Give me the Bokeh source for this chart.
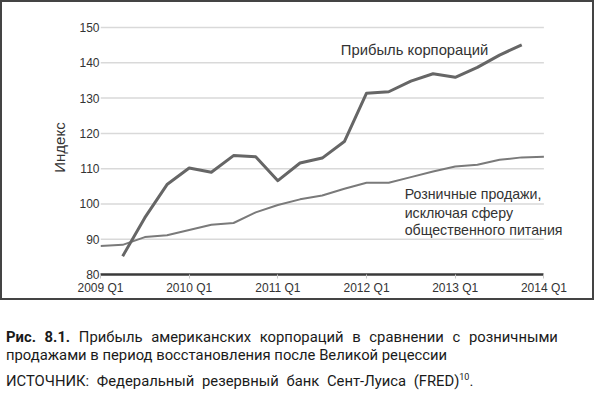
from bokeh.plotting import figure
from bokeh.layouts import column
from bokeh.models import Label, FixedTicker, Div
from bokeh.embed import file_html
from bokeh.resources import INLINE

# ---- data ----
profit_quarters = ["2009 Q2", "2009 Q3", "2009 Q4",
                   "2010 Q1", "2010 Q2", "2010 Q3", "2010 Q4",
                   "2011 Q1", "2011 Q2", "2011 Q3", "2011 Q4",
                   "2012 Q1", "2012 Q2", "2012 Q3", "2012 Q4",
                   "2013 Q1", "2013 Q2", "2013 Q3", "2013 Q4"]
profit_values = [85.2, 96.1, 105.5,
                 110.2, 109.0, 113.7, 113.4,
                 106.6, 111.6, 113.0, 117.7,
                 131.4, 131.8, 134.8, 136.9,
                 135.9, 138.7, 142.2, 145.1]

retail_quarters = ["2009 Q1", "2009 Q2", "2009 Q3", "2009 Q4",
                   "2010 Q1", "2010 Q2", "2010 Q3", "2010 Q4",
                   "2011 Q1", "2011 Q2", "2011 Q3", "2011 Q4",
                   "2012 Q1", "2012 Q2", "2012 Q3", "2012 Q4",
                   "2013 Q1", "2013 Q2", "2013 Q3", "2013 Q4",
                   "2014 Q1"]
retail_values = [88.1, 88.4, 90.6, 91.1,
                 92.6, 94.1, 94.6, 97.6,
                 99.7, 101.3, 102.4, 104.3,
                 106.0, 106.0, 107.6, 109.2,
                 110.6, 111.1, 112.5, 113.2,
                 113.4]

x_tick_labels = ["2009 Q1", "2010 Q1", "2011 Q1", "2012 Q1", "2013 Q1", "2014 Q1"]
y_ticks = [80, 90, 100, 110, 120, 130, 140, 150]

y_title = "Индекс"
profit_name = "Прибыль корпораций"
retail_name = ["Розничные продажи,", "исключая сферу", "общественного питания"]
caption_bold = "Рис. 8.1."
caption_line1 = "Прибыль американских корпораций в сравнении с розничными"
caption_line2 = "продажами в период восстановления после Великой рецессии"
caption_src = "ИСТОЧНИК: Федеральный резервный банк Сент-Луиса (FRED)"
caption_sup = "10"


def qnum(s):
    y, q = s.split(" Q")
    return int(y) + (int(q) - 1) / 4


profit_x = [qnum(s) for s in profit_quarters]
retail_x = [qnum(s) for s in retail_quarters]
x_ticks = [qnum(s) for s in x_tick_labels]
x_first, x_last = x_ticks[0], x_ticks[-1]

FONT = "Liberation Sans"
CAP_FONT = "Roboto"

# ---------------- chart ----------------
p = figure(width=594, height=300, x_range=(2009, 2014.3), y_range=(80, 152),
           output_backend="svg", toolbar_location=None,
           min_border_left=98, min_border_right=26,
           min_border_top=18, min_border_bottom=28)
p.styles = {"border": "2px solid #444444"}
p.outline_line_color = None
p.background_fill_color = "white"
p.border_fill_color = "white"

p.xaxis.ticker = FixedTicker(ticks=x_ticks)
p.xaxis.bounds = (x_first, x_last)
p.xaxis.major_label_overrides = {int(t): lab for t, lab in zip(x_ticks, x_tick_labels)}
p.xaxis.axis_line_color = "#3a3a3a"
p.xaxis.axis_line_width = 2.5
p.xaxis.major_tick_line_color = "#c8c8c8"
p.xaxis.major_tick_out = 4
p.xaxis.major_tick_in = 0
p.xaxis.minor_tick_line_color = None
p.xaxis.major_label_standoff = 2
p.xaxis.major_label_text_font = FONT
p.xaxis.major_label_text_font_size = "12px"
p.xaxis.major_label_text_color = "#333333"

p.yaxis.ticker = FixedTicker(ticks=y_ticks)
p.yaxis.axis_line_color = None
p.yaxis.major_tick_line_color = None
p.yaxis.minor_tick_line_color = None
p.yaxis.major_tick_out = 0
p.yaxis.major_tick_in = 0
p.yaxis.major_label_standoff = 1
p.yaxis.major_label_text_font = FONT
p.yaxis.major_label_text_font_size = "12px"
p.yaxis.major_label_text_color = "#333333"
p.yaxis.axis_label = y_title
p.yaxis.axis_label_text_font = FONT
p.yaxis.axis_label_text_font_style = "normal"
p.yaxis.axis_label_text_font_size = "15px"
p.yaxis.axis_label_text_color = "#333333"
p.yaxis.axis_label_standoff = 8

# horizontal grid lines limited to the data span (2009 Q1 .. 2014 Q1)
p.xgrid.visible = False
p.ygrid.visible = False
grid_levels = y_ticks[1:]
p.segment(x0=[x_first] * len(grid_levels), x1=[x_last] * len(grid_levels),
          y0=grid_levels, y1=grid_levels, line_color="#d9d9d9", line_width=1.5)

p.line(retail_x, retail_values, line_width=2, line_color="#7a7a7a", line_join="round")
p.line(profit_x, profit_values, line_width=3, line_color="#666666", line_join="round")

p.add_layout(Label(x=2011.71, y=143.5, text=profit_name, text_baseline="middle",
                   text_font=FONT, text_font_size="14.8px", text_color="#333333"))
for yy, t in zip([102.7, 97.3, 92.5], retail_name):
    p.add_layout(Label(x=2012.43, y=yy, text=t, text_baseline="middle",
                       text_font=FONT, text_font_size="14.2px", text_color="#333333"))

# ---------------- caption ----------------
cap_html = (
    f'<div style="font-family:{CAP_FONT};font-size:14.8px;line-height:18px;'
    f'color:#1a1a1a;padding:23px 0 0 1px;white-space:nowrap;">'
    f'<span style="word-spacing:5px;"><b>{caption_bold}</b> {caption_line1}</span>'
    f'<br>{caption_line2}'
    f'<div style="margin-top:8px;word-spacing:4px;">{caption_src}'
    f'<sup style="font-size:9px;line-height:0;">{caption_sup}</sup>.</div></div>'
)
c = Div(text=cap_html, width=600, height=89)

layout = column(p, c, spacing=0)
open("out.html", "w").write(file_html(layout, INLINE))
